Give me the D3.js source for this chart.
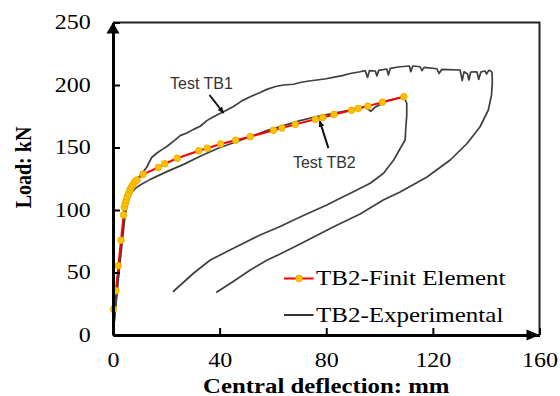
<!DOCTYPE html>
<html>
<head>
<meta charset="utf-8">
<script src="https://cdn.jsdelivr.net/npm/d3@7"></script>
<style>
  html, body { margin: 0; padding: 0; background: #fff; }
  svg { display: block; }
  .serif { font-family: "Liberation Serif", "Times New Roman", serif; }
  .sans { font-family: "Liberation Sans", Arial, sans-serif; }
</style>
</head>
<body>
<svg id="chart" width="560" height="396"></svg>
<script>
// Finite element prediction for beam TB2 (central deflection in mm, load in kN)
const feDeflection = [0.22, 1.1, 2.0, 3.0, 3.97, 4.24, 4.61, 4.99, 5.36, 5.85, 6.37, 6.86, 7.5, 8.1, 9.0,
  11.25, 17.0, 19.4, 24.1, 32.2, 35.4, 40.4, 46.0, 51.5, 60.2, 63.4, 68.4, 75.9, 78.7, 82.9, 89.5, 92.0,
  95.6, 101.0, 109.1];
const feLoad = [20.6, 35.4, 55.4, 75.8, 96, 102.1, 105.3, 108, 110.6, 113.3, 116, 118.1, 120.2, 122.4, 124,
  128.6, 134, 137, 141.4, 147.4, 149.4, 152.8, 155.8, 158.7, 163.8, 165.6, 168.5, 172.6, 174, 176.4, 179.8,
  181.2, 183.1, 186.2, 190.6];

// Test TB1: loading, jagged plateau near failure, then unloading
const tb1Deflection = [0, 2.2, 4.2, 5.6, 7, 9, 11, 12.75, 14.5, 16.5, 18.5, 20.2, 23, 25.2, 27.7, 30.2, 32.7,
  35.2, 37.7, 41.5, 45.2, 48.5, 51.5, 55, 57.7, 61, 64, 67.7, 70.2, 73.5, 76.5, 80, 83, 86, 89, 92.7,
  94.6, 95.5, 96.2, 98.4, 99.0, 99.7, 102.7, 103.3, 104, 107.7, 111.2, 111.7, 112.5, 115.2, 115.9, 116.7,
  121.5, 122.3, 123.4, 130.2, 131, 131.7, 133, 133.5, 134.2, 136.5, 137.2, 138, 139.6, 140.1, 141, 141.7,
  142.2, 142.3, 142.0, 140.8, 137.7, 132.9, 126.5, 117.8, 107.7, 101.4, 92.7, 82.6, 70.2, 62.7, 57.9,
  51.5, 45.1, 38.7];
const tb1Load = [0, 52, 98, 112, 120, 124.5, 129.5, 134.6, 142, 145.6, 148.5, 150.8, 155.5, 159.5, 161.6,
  164.5, 167, 171.5, 174.6, 178.6, 182.8, 187.5, 190.6, 193.8, 196.5, 198.8, 200, 200.6, 202, 203.2, 204,
  205, 206.3, 207.5, 209.2, 210.6,
  211.5, 206.1, 211.5, 211.2, 207.2, 211.7, 212.8, 208, 213.3, 214.6, 215.2, 210.6, 215.2, 214.6, 211.5,
  214.1, 213, 209.3, 212.5, 212, 203.5, 210.6, 208.8, 204, 210.4, 210.6, 204.5, 210.4, 211.2, 208.8, 211.7,
  211.2, 210, 201.4, 192, 180, 166.6, 153.4, 140, 126.4, 114.4, 108, 96.8, 86.4, 72.8, 64.8, 60, 52, 42.8,
  34];

// Test TB2: loading up to failure, then unloading
const tb2Deflection = [0, 2.5, 4.6, 5.8, 7.0, 8.5, 10.2, 14, 20.2, 26.5, 32.7, 39, 45.2, 51.5, 57.7, 64,
  70.2, 76.5, 83, 89, 94.5, 96.7, 98.5, 103, 109.1, 110.2, 110.2, 109.8, 109.6, 107.8, 105.3, 101.5, 96.5,
  90.2, 85.2, 80.2, 70.2, 62.7, 55.2, 45.2, 36.5, 30.2, 22.5];
const tb2Load = [0, 55, 97, 108, 114, 117.5, 120, 124.5, 130.7, 136.5, 143, 149, 153.8, 158.6, 163.5, 167.5,
  171.5, 174.8, 177.5, 180, 182.5, 179, 182.5, 187.5, 190.6, 185.4, 176, 164, 156, 149.4, 140, 129.4, 121.4,
  114.6, 109.4, 104, 94.4, 86.8, 80, 69.4, 60, 49.4, 34.6];

const xTicks = [0, 40, 80, 120, 160];
const yTicks = [0, 50, 100, 150, 200, 250];
const legendLabels = ["TB2-Finit Element", "TB2-Experimental"];

const svg = d3.select("#chart");
const x = d3.scaleLinear().domain([0, 160]).range([113, 539.5]);
const y = d3.scaleLinear().domain([0, 250]).range([335, 22.5]);

const zip = (a, b) => a.map((v, i) => [v, b[i]]);
const line = d3.line().x(d => x(d[0])).y(d => y(d[1]));

// frame: top and right borders
svg.append("path")
  .attr("d", `M${x(0)},${y(250)}H${x(160)}V${y(0)}`)
  .attr("fill", "none").attr("stroke", "#222").attr("stroke-width", 2);

// experimental curves
const grey = "#3f3f3f";
[zip(tb1Deflection, tb1Load), zip(tb2Deflection, tb2Load)].forEach(pts => {
  svg.append("path").datum(pts).attr("d", line)
    .attr("fill", "none").attr("stroke", grey).attr("stroke-width", 1.7)
    .attr("stroke-linejoin", "round");
});

// FE curve with markers
const fe = zip(feDeflection, feLoad);
svg.append("path").datum(fe).attr("d", line)
  .attr("fill", "none").attr("stroke", "#ff0000").attr("stroke-width", 2);
svg.append("g").selectAll("circle").data(fe).join("circle")
  .attr("cx", d => x(d[0])).attr("cy", d => y(d[1])).attr("r", 3.4)
  .attr("fill", "#ffc000").attr("stroke", "#d9a200").attr("stroke-width", 0.6);

// axes
const yAxis = d3.axisLeft(y).tickValues(yTicks).tickSizeInner(-7).tickSizeOuter(0).tickPadding(18.6);
const gy = svg.append("g").attr("transform", `translate(${x(0)},0)`).call(yAxis);
const xAxis = d3.axisBottom(x).tickValues(xTicks).tickSizeInner(-7).tickSizeOuter(0);
const gx = svg.append("g").attr("transform", `translate(0,${y(0)})`).call(xAxis);

[gx, gy].forEach(g => {
  g.select(".domain").attr("stroke", "#000").attr("stroke-width", 3);
  g.selectAll(".tick line").attr("stroke", "#000").attr("stroke-width", 2);
  g.selectAll(".tick text").attr("class", "serif").attr("font-size", 20)
    .attr("fill", "#000").attr("transform", "scale(1.2,1)");
});
gy.selectAll(".tick text").attr("x", -18.6).attr("dy", "0.32em");
gx.selectAll(".tick text").attr("y", 32).attr("dy", null);

// axis arrowheads
svg.append("path")
  .attr("d", `M${x(0)},${y(250)}l-6.5,11h13z`).attr("fill", "#000");
svg.append("path")
  .attr("d", `M${x(160)},${y(0)}l-13,-5.5v11z`).attr("fill", "#000");

// axis titles
svg.append("text").attr("class", "serif")
  .attr("transform", `translate(${x(80)},393) scale(1.24,1)`)
  .attr("text-anchor", "middle").attr("font-size", 20).attr("font-weight", "bold")
  .text("Central deflection: mm");
svg.append("text").attr("class", "serif")
  .attr("transform", `translate(30.5,${y(134)}) rotate(-90) scale(1,1.2)`)
  .attr("text-anchor", "middle").attr("font-size", 20).attr("font-weight", "bold")
  .text("Load: kN");

// curve callouts
const defs = svg.append("defs");
defs.append("marker").attr("id", "tip").attr("viewBox", "0 0 10 10")
  .attr("refX", 8).attr("refY", 5).attr("markerWidth", 3.5).attr("markerHeight", 3.5)
  .attr("orient", "auto")
  .append("path").attr("d", "M0,1L10,5L0,9z").attr("fill", "#111");

const callouts = [
  { text: "Test TB1", at: [21.4, 196.8], from: [36.2, 192], to: [41.4, 177.8] },
  { text: "Test TB2", at: [67.5, 134], from: [80.8, 149.5], to: [77.6, 171] }
];
callouts.forEach(c => {
  svg.append("text").attr("class", "sans")
    .attr("x", x(c.at[0])).attr("y", y(c.at[1]))
    .attr("font-size", 16).attr("fill", "#333").text(c.text);
  svg.append("line")
    .attr("x1", x(c.from[0])).attr("y1", y(c.from[1]))
    .attr("x2", x(c.to[0])).attr("y2", y(c.to[1]))
    .attr("stroke", "#111").attr("stroke-width", 2).attr("marker-end", "url(#tip)");
});

// legend
const legend = svg.append("g");
const rows = [
  { y: 278.5, color: "#ff0000", marker: true },
  { y: 315, color: "#000", marker: false }
];
rows.forEach((r, i) => {
  legend.append("line").attr("x1", 284).attr("x2", 313.5)
    .attr("y1", r.y).attr("y2", r.y)
    .attr("stroke", r.color).attr("stroke-width", r.marker ? 2 : 1.6);
  if (r.marker) {
    legend.append("circle").attr("cx", 299).attr("cy", r.y).attr("r", 3.4)
      .attr("fill", "#ffc000").attr("stroke", "#d9a200").attr("stroke-width", 0.6);
  }
  legend.append("text").attr("class", "serif")
    .attr("transform", `translate(316,${r.y + 6.7}) scale(1.19,1)`)
    .attr("font-size", 21).attr("fill", "#000").text(legendLabels[i]);
});
</script>
</body>
</html>
